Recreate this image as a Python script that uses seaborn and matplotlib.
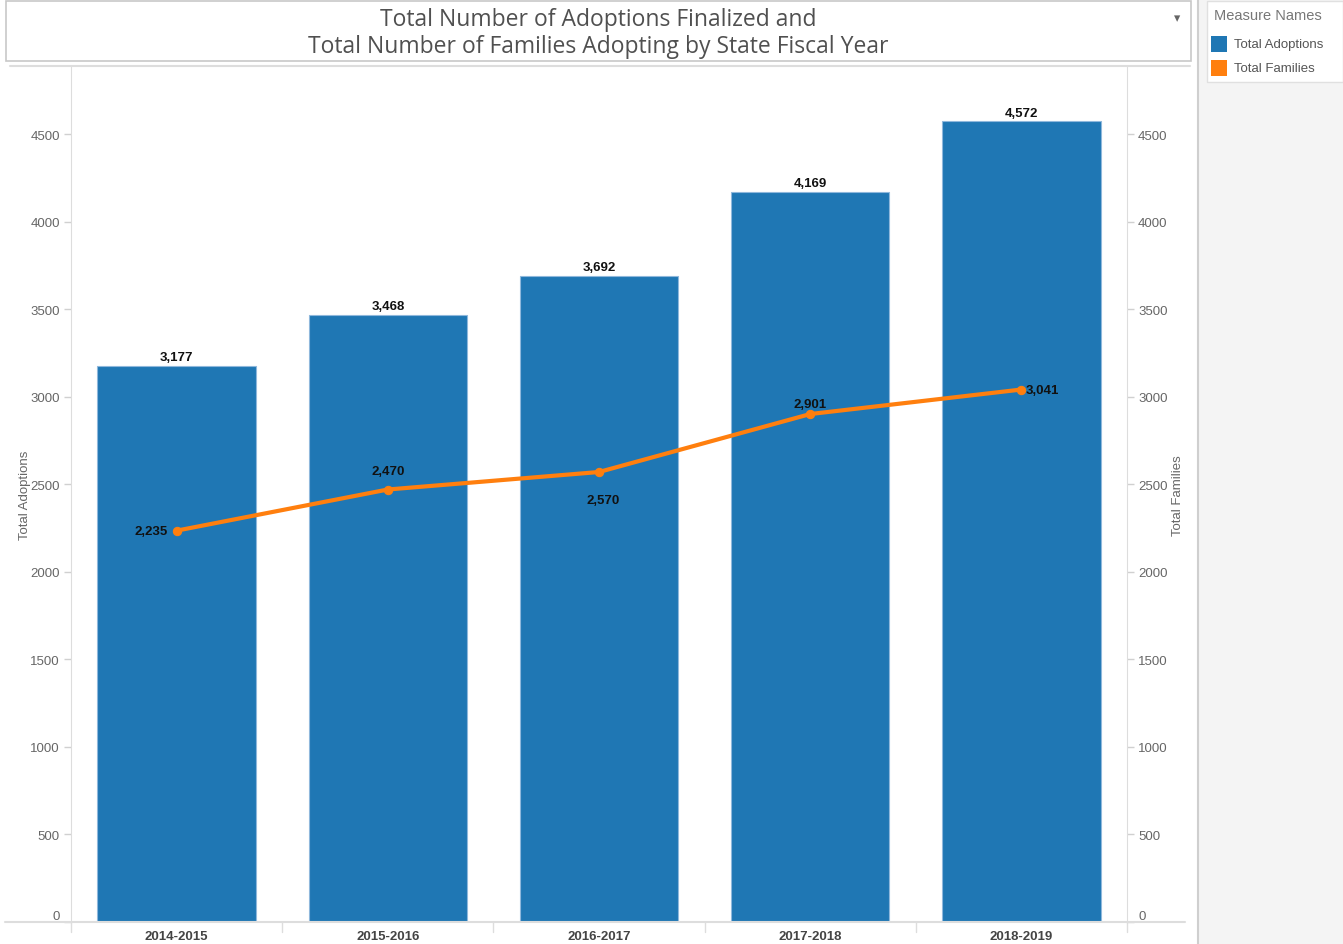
import pandas as pd
import matplotlib.pyplot as plt
import seaborn as sns
from matplotlib.patches import Rectangle

# data
years = ["2014-2015", "2015-2016", "2016-2017", "2017-2018", "2018-2019"]
total_adoptions = [3177, 3468, 3692, 4169, 4572]
total_families = [2235, 2470, 2570, 2901, 3041]
y_ticks = [0, 500, 1000, 1500, 2000, 2500, 3000, 3500, 4000, 4500]

BLUE = "#1f77b4"
ORANGE = "#ff7f0e"
GREY_TXT = "#666666"

sns.set_style("white")
plt.rcParams["font.family"] = ["Liberation Sans", "DejaVu Sans"]

df = pd.DataFrame({"year": years, "adoptions": total_adoptions, "families": total_families})

W, H = 1343, 945
fig = plt.figure(figsize=(W / 100, H / 100), dpi=100)

def box(x0, y0, x1, y1):
    return [x0 / W, 1 - y1 / H, (x1 - x0) / W, (y1 - y0) / H]

# grey side panel for the legend
fig.patches.append(Rectangle((1198 / W, 0), 1 - 1198 / W, 1, transform=fig.transFigure,
                             facecolor="#f4f4f4", edgecolor="none", zorder=0))
fig.lines.append(plt.Line2D([1198 / W, 1198 / W], [0, 1], transform=fig.transFigure,
                            color="#cfcfcf", lw=1.5))
fig.patches.append(Rectangle((1207 / W, 1 - 83 / H), 1 - 1207 / W, 81 / H, transform=fig.transFigure,
                             facecolor="white", edgecolor="#e0e0e0", lw=1, zorder=1))

# title box
fig.patches.append(Rectangle((6 / W, 1 - 62 / H), 1185 / W, 60 / H, transform=fig.transFigure,
                             facecolor="white", edgecolor="#c8c8c8", lw=1.2, zorder=1))
fig.text(598 / W, 1 - 20 / H, "Total Number of Adoptions Finalized and", ha="center", va="center",
         fontsize=16.5, color="#505050", family=["Open Sans", "DejaVu Sans"], zorder=3)
fig.text(598 / W, 1 - 47 / H, "Total Number of Families Adopting by State Fiscal Year", ha="center",
         va="center", fontsize=16.5, color="#505050", family=["Open Sans", "DejaVu Sans"], zorder=3)
fig.text(1177 / W, 1 - 19 / H, "\u25BE", ha="center", va="center", fontsize=9, color="#666666",
         family=["DejaVu Sans"], zorder=3)
fig.lines.append(plt.Line2D([10 / W, 1190 / W], [1 - 67 / H, 1 - 67 / H], transform=fig.transFigure,
                            color="#dddddd", lw=1.5))

# legend
fig.text(1214 / W, 1 - 16 / H, "Measure Names", ha="left", va="center", fontsize=10.5, color="#777777")
for i, (lab, col) in enumerate([("Total Adoptions", BLUE), ("Total Families", ORANGE)]):
    yc = 45 + i * 24
    fig.patches.append(Rectangle((1211 / W, 1 - (yc + 8) / H), 16 / W, 16 / H, transform=fig.transFigure,
                                 facecolor=col, edgecolor="none", zorder=2))
    fig.text(1234 / W, 1 - yc / H, lab, ha="left", va="center", fontsize=9.5, color="#555555", zorder=3)

ax = fig.add_axes(box(71, 68, 1127, 923))
sns.barplot(data=df, x="year", y="adoptions", color=BLUE, saturation=1, width=0.75,
            edgecolor="#8fb8dc", linewidth=0.8, ax=ax, zorder=2)
ax2 = ax.twinx()
sns.lineplot(x=range(len(years)), y=total_families, color=ORANGE, lw=3, marker="o",
             markersize=6, markeredgecolor=ORANGE, ax=ax2, zorder=3)

ymax = 4883
for a in (ax, ax2):
    a.set_ylim(0, ymax)
    a.set_xlim(-0.5, 4.5)
    a.set_yticks(y_ticks)
    a.set_yticklabels([str(v) for v in y_ticks])
    a.tick_params(axis="y", length=5, width=1, color="#d0d0d0", labelsize=9.5,
                  labelcolor=GREY_TXT, pad=3)
    for s in a.spines.values():
        s.set_visible(False)
ax.spines["left"].set_visible(True)
ax.spines["left"].set_color("#dddddd")
ax2.spines["right"].set_visible(True)
ax2.spines["right"].set_color("#dddddd")
ax.set_ylabel("Total Adoptions", fontsize=9.5, color=GREY_TXT)
ax2.set_ylabel("Total Families", fontsize=9.5, color=GREY_TXT)
ax.yaxis.set_label_coords((31 - 71) / 1056, 0.5)
ax2.yaxis.set_label_coords((1172 - 71) / 1056, 0.5)
ax.set_xlabel("")
ax2.set_xlabel("")
for lab in ax.get_yticklabels() + ax2.get_yticklabels():
    if lab.get_text() == "0":
        lab.set_va("bottom")

# bottom axis line and category dividers
fig.lines.append(plt.Line2D([5 / W, 1185 / W], [1 - 923 / H, 1 - 923 / H], transform=fig.transFigure,
                            color="#dddddd", lw=1.5))
ax.set_xticks(range(len(years)))
ax.set_xticklabels(years, fontsize=9.5, fontweight="bold", color="#444444")
ax.tick_params(axis="x", length=0, pad=6)
for i in range(len(years) + 1):
    ax.plot([i - 0.5, i - 0.5], [0, -0.012], transform=ax.get_xaxis_transform(),
            color="#dddddd", lw=1, clip_on=False)

# value labels
for i, v in enumerate(total_adoptions):
    ax.text(i, v + 15, f"{v:,}", ha="center", va="bottom", fontsize=9.5, fontweight="bold", color="#111111")

fam_offsets = [(-0.04, 0, "right", "center"), (0, 70, "center", "bottom"), (0.02, -125, "center", "top"),
               (0, 25, "center", "bottom"), (0.02, 0, "left", "center")]
for i, v in enumerate(total_families):
    dx, dy, ha, va = fam_offsets[i]
    ax2.text(i + dx, v + dy, f"{v:,}", ha=ha, va=va, fontsize=9.5,
             fontweight="bold", color="#111111", zorder=4)

fig.savefig("out.png", dpi=100)
